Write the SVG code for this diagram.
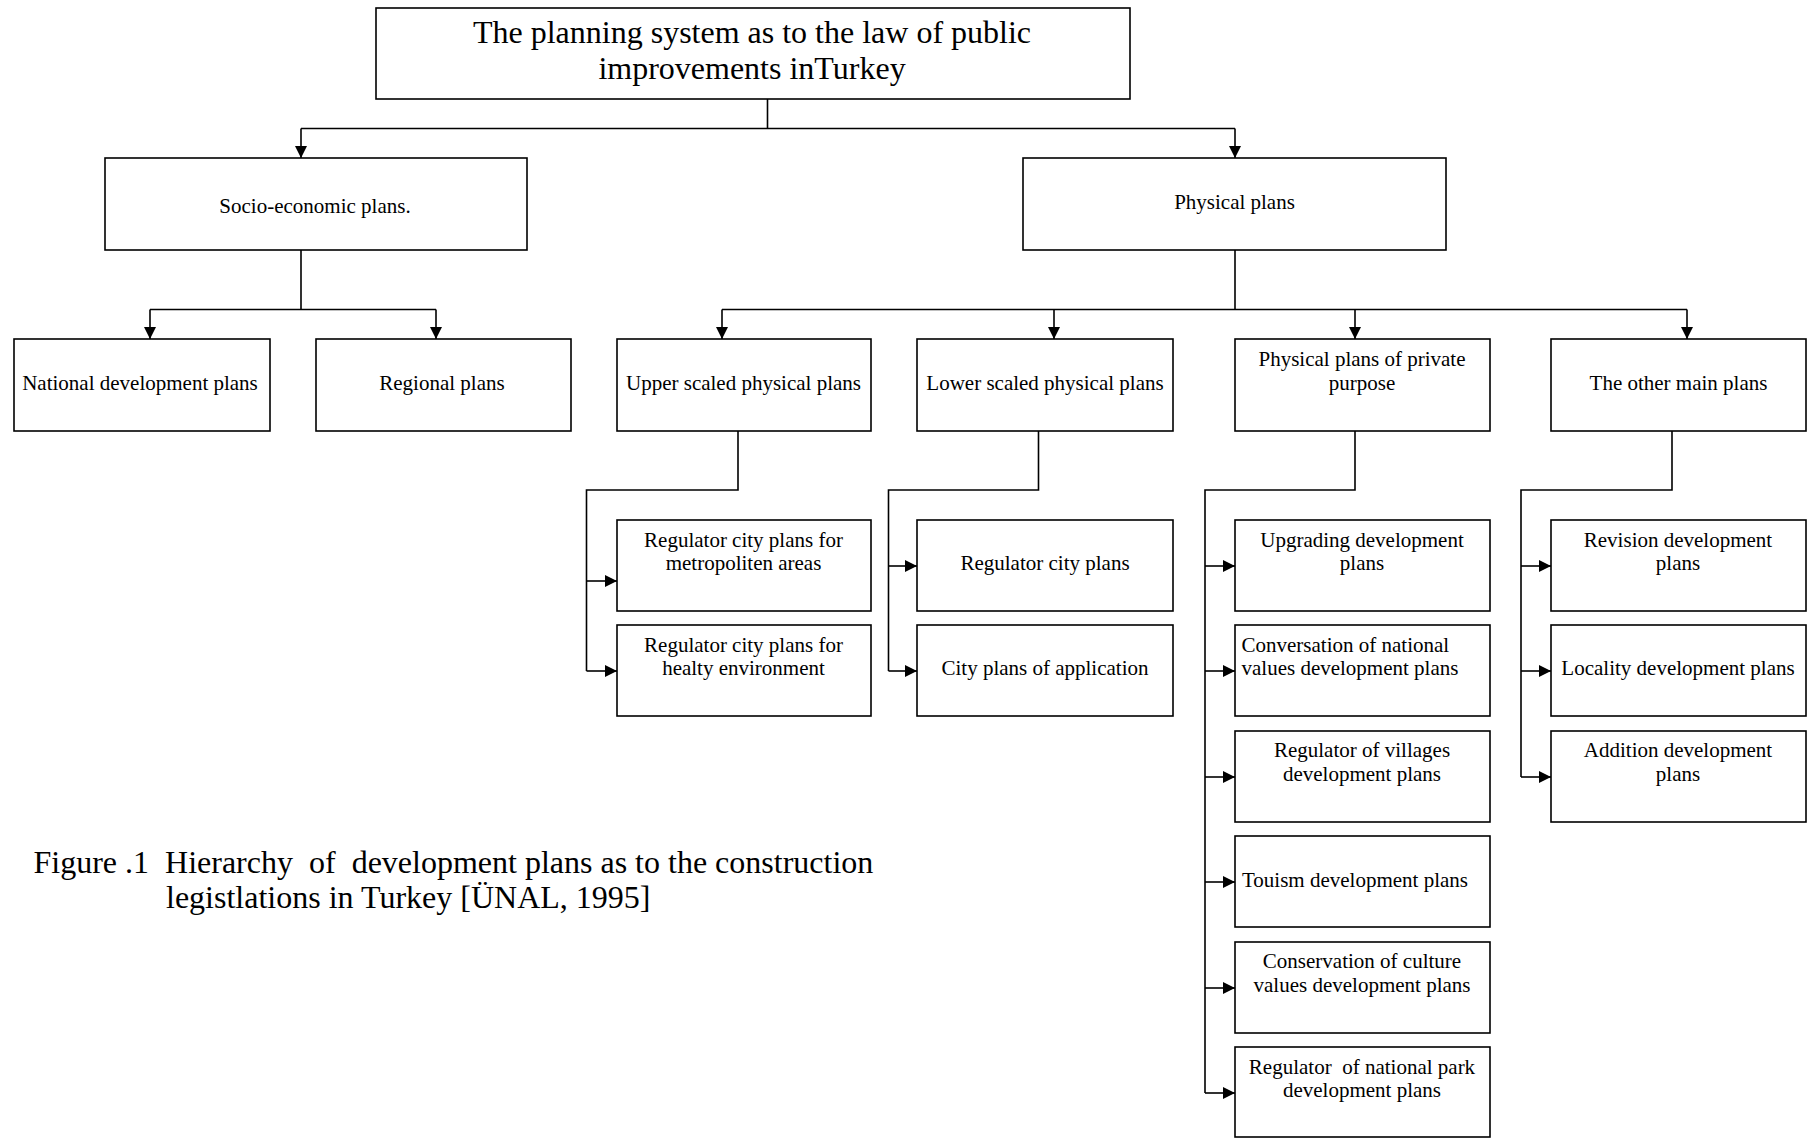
<svg xmlns="http://www.w3.org/2000/svg" width="1807" height="1138" viewBox="0 0 1807 1138">
<style>
.box{fill:#fff;stroke:#000;stroke-width:1.6}
.t{font-family:"Liberation Serif","Times New Roman",serif;font-size:21px;fill:#000;text-anchor:middle}
.ts{font-family:"Liberation Serif","Times New Roman",serif;font-size:21px;fill:#000;text-anchor:start}
.big{font-family:"Liberation Serif","Times New Roman",serif;font-size:32px;fill:#000}
.c{fill:none;stroke:#000;stroke-width:1.6}
</style>
<defs>
<marker id="ah" viewBox="0 0 12 12" refX="12" refY="6" markerWidth="12" markerHeight="12" markerUnits="userSpaceOnUse" orient="auto">
<path d="M0,0 L12,6 L0,12 z" fill="#000"/>
</marker>
</defs>
<rect width="1807" height="1138" fill="#fff"/>
<g id="connectors">
<path class="c" d="M767.5 99 V128.5 M301 128.5 H1235"/>
<path class="c" d="M301 128.5 V158" marker-end="url(#ah)"/>
<path class="c" d="M1235 128.5 V158" marker-end="url(#ah)"/>
<path class="c" d="M301 250 V309.5 M150 309.5 H436"/>
<path class="c" d="M150 309.5 V339" marker-end="url(#ah)"/>
<path class="c" d="M436 309.5 V339" marker-end="url(#ah)"/>
<path class="c" d="M1235 250 V309.5 M722 309.5 H1687"/>
<path class="c" d="M722 309.5 V339" marker-end="url(#ah)"/>
<path class="c" d="M1054 309.5 V339" marker-end="url(#ah)"/>
<path class="c" d="M1355 309.5 V339" marker-end="url(#ah)"/>
<path class="c" d="M1687 309.5 V339" marker-end="url(#ah)"/>
<path class="c" d="M738 431 V490 H586.5 V671"/>
<path class="c" d="M586.5 581 H617" marker-end="url(#ah)"/>
<path class="c" d="M586.5 671 H617" marker-end="url(#ah)"/>
<path class="c" d="M1038.5 431 V490 H888.5 V671"/>
<path class="c" d="M888.5 566 H917" marker-end="url(#ah)"/>
<path class="c" d="M888.5 671 H917" marker-end="url(#ah)"/>
<path class="c" d="M1355 431 V490 H1205 V1093"/>
<path class="c" d="M1205 566 H1235" marker-end="url(#ah)"/>
<path class="c" d="M1205 671 H1235" marker-end="url(#ah)"/>
<path class="c" d="M1205 777 H1235" marker-end="url(#ah)"/>
<path class="c" d="M1205 882 H1235" marker-end="url(#ah)"/>
<path class="c" d="M1205 988 H1235" marker-end="url(#ah)"/>
<path class="c" d="M1205 1093 H1235" marker-end="url(#ah)"/>
<path class="c" d="M1672 431 V490 H1521 V777"/>
<path class="c" d="M1521 566 H1551" marker-end="url(#ah)"/>
<path class="c" d="M1521 671 H1551" marker-end="url(#ah)"/>
<path class="c" d="M1521 777 H1551" marker-end="url(#ah)"/>
</g>
<g id="title">
<rect class="box" x="376" y="8" width="754" height="91"/>
<text class="big" x="752" y="43" text-anchor="middle">The planning system as to the law of public</text>
<text class="big" x="752" y="79" text-anchor="middle">improvements inTurkey</text>
</g>
<g id="socio">
<rect class="box" x="105" y="158" width="422" height="92"/>
<text class="t" x="315" y="213">Socio-economic plans.</text>
</g>
<g id="physical">
<rect class="box" x="1023" y="158" width="423" height="92"/>
<text class="t" x="1234.5" y="209">Physical plans</text>
</g>
<g id="national">
<rect class="box" x="14" y="339" width="256" height="92"/>
<text class="t" x="140" y="390">National development plans</text>
</g>
<g id="regional">
<rect class="box" x="316" y="339" width="255" height="92"/>
<text class="t" x="442" y="390">Regional plans</text>
</g>
<g id="upper">
<rect class="box" x="617" y="339" width="254" height="92"/>
<text class="t" x="743.5" y="390">Upper scaled physical plans</text>
</g>
<g id="lower">
<rect class="box" x="917" y="339" width="256" height="92"/>
<text class="t" x="1045" y="390">Lower scaled physical plans</text>
</g>
<g id="private">
<rect class="box" x="1235" y="339" width="255" height="92"/>
<text class="t" x="1362" y="366">Physical plans of private</text>
<text class="t" x="1362" y="389.5">purpose</text>
</g>
<g id="other">
<rect class="box" x="1551" y="339" width="255" height="92"/>
<text class="t" x="1678.5" y="390">The other main plans</text>
</g>
<g id="upper-metro">
<rect class="box" x="617" y="520" width="254" height="91"/>
<text class="t" x="743.5" y="547">Regulator city plans for</text>
<text class="t" x="743.5" y="569.5">metropoliten areas</text>
</g>
<g id="upper-healthy">
<rect class="box" x="617" y="625" width="254" height="91"/>
<text class="t" x="743.5" y="652">Regulator city plans for</text>
<text class="t" x="743.5" y="674.5">healty environment</text>
</g>
<g id="lower-regulator">
<rect class="box" x="917" y="520" width="256" height="91"/>
<text class="t" x="1045" y="570">Regulator city plans</text>
</g>
<g id="lower-application">
<rect class="box" x="917" y="625" width="256" height="91"/>
<text class="t" x="1045" y="675">City plans of application</text>
</g>
<g id="upgrading">
<rect class="box" x="1235" y="520" width="255" height="91"/>
<text class="t" x="1362" y="547">Upgrading development</text>
<text class="t" x="1362" y="570">plans</text>
</g>
<g id="conversation">
<rect class="box" x="1235" y="625" width="255" height="91"/>
<text class="ts" x="1241.5" y="652">Conversation of national</text>
<text class="ts" x="1241.5" y="675">values development plans</text>
</g>
<g id="villages">
<rect class="box" x="1235" y="731" width="255" height="91"/>
<text class="t" x="1362" y="757">Regulator of villages</text>
<text class="t" x="1362" y="780.5">development plans</text>
</g>
<g id="tourism">
<rect class="box" x="1235" y="836" width="255" height="91"/>
<text class="ts" x="1242" y="887">Touism development plans</text>
</g>
<g id="culture">
<rect class="box" x="1235" y="942" width="255" height="91"/>
<text class="t" x="1362" y="968">Conservation of culture</text>
<text class="t" x="1362" y="991.5">values development plans</text>
</g>
<g id="park">
<rect class="box" x="1235" y="1047" width="255" height="90"/>
<text class="t" x="1362" y="1073.5" xml:space="preserve">Regulator  of national park</text>
<text class="t" x="1362" y="1097">development plans</text>
</g>
<g id="revision">
<rect class="box" x="1551" y="520" width="255" height="91"/>
<text class="t" x="1678" y="547">Revision development</text>
<text class="t" x="1678" y="570">plans</text>
</g>
<g id="locality">
<rect class="box" x="1551" y="625" width="255" height="91"/>
<text class="t" x="1678" y="675">Locality development plans</text>
</g>
<g id="addition">
<rect class="box" x="1551" y="731" width="255" height="91"/>
<text class="t" x="1678" y="757">Addition development</text>
<text class="t" x="1678" y="780.5">plans</text>
</g>
<g id="caption">
<text class="big" x="33.5" y="872.5" xml:space="preserve">Figure .1  Hierarchy  of  development plans as to the construction</text>
<text class="big" x="166" y="907.5">legistlations in Turkey [ÜNAL, 1995]</text>
</g>
</svg>
